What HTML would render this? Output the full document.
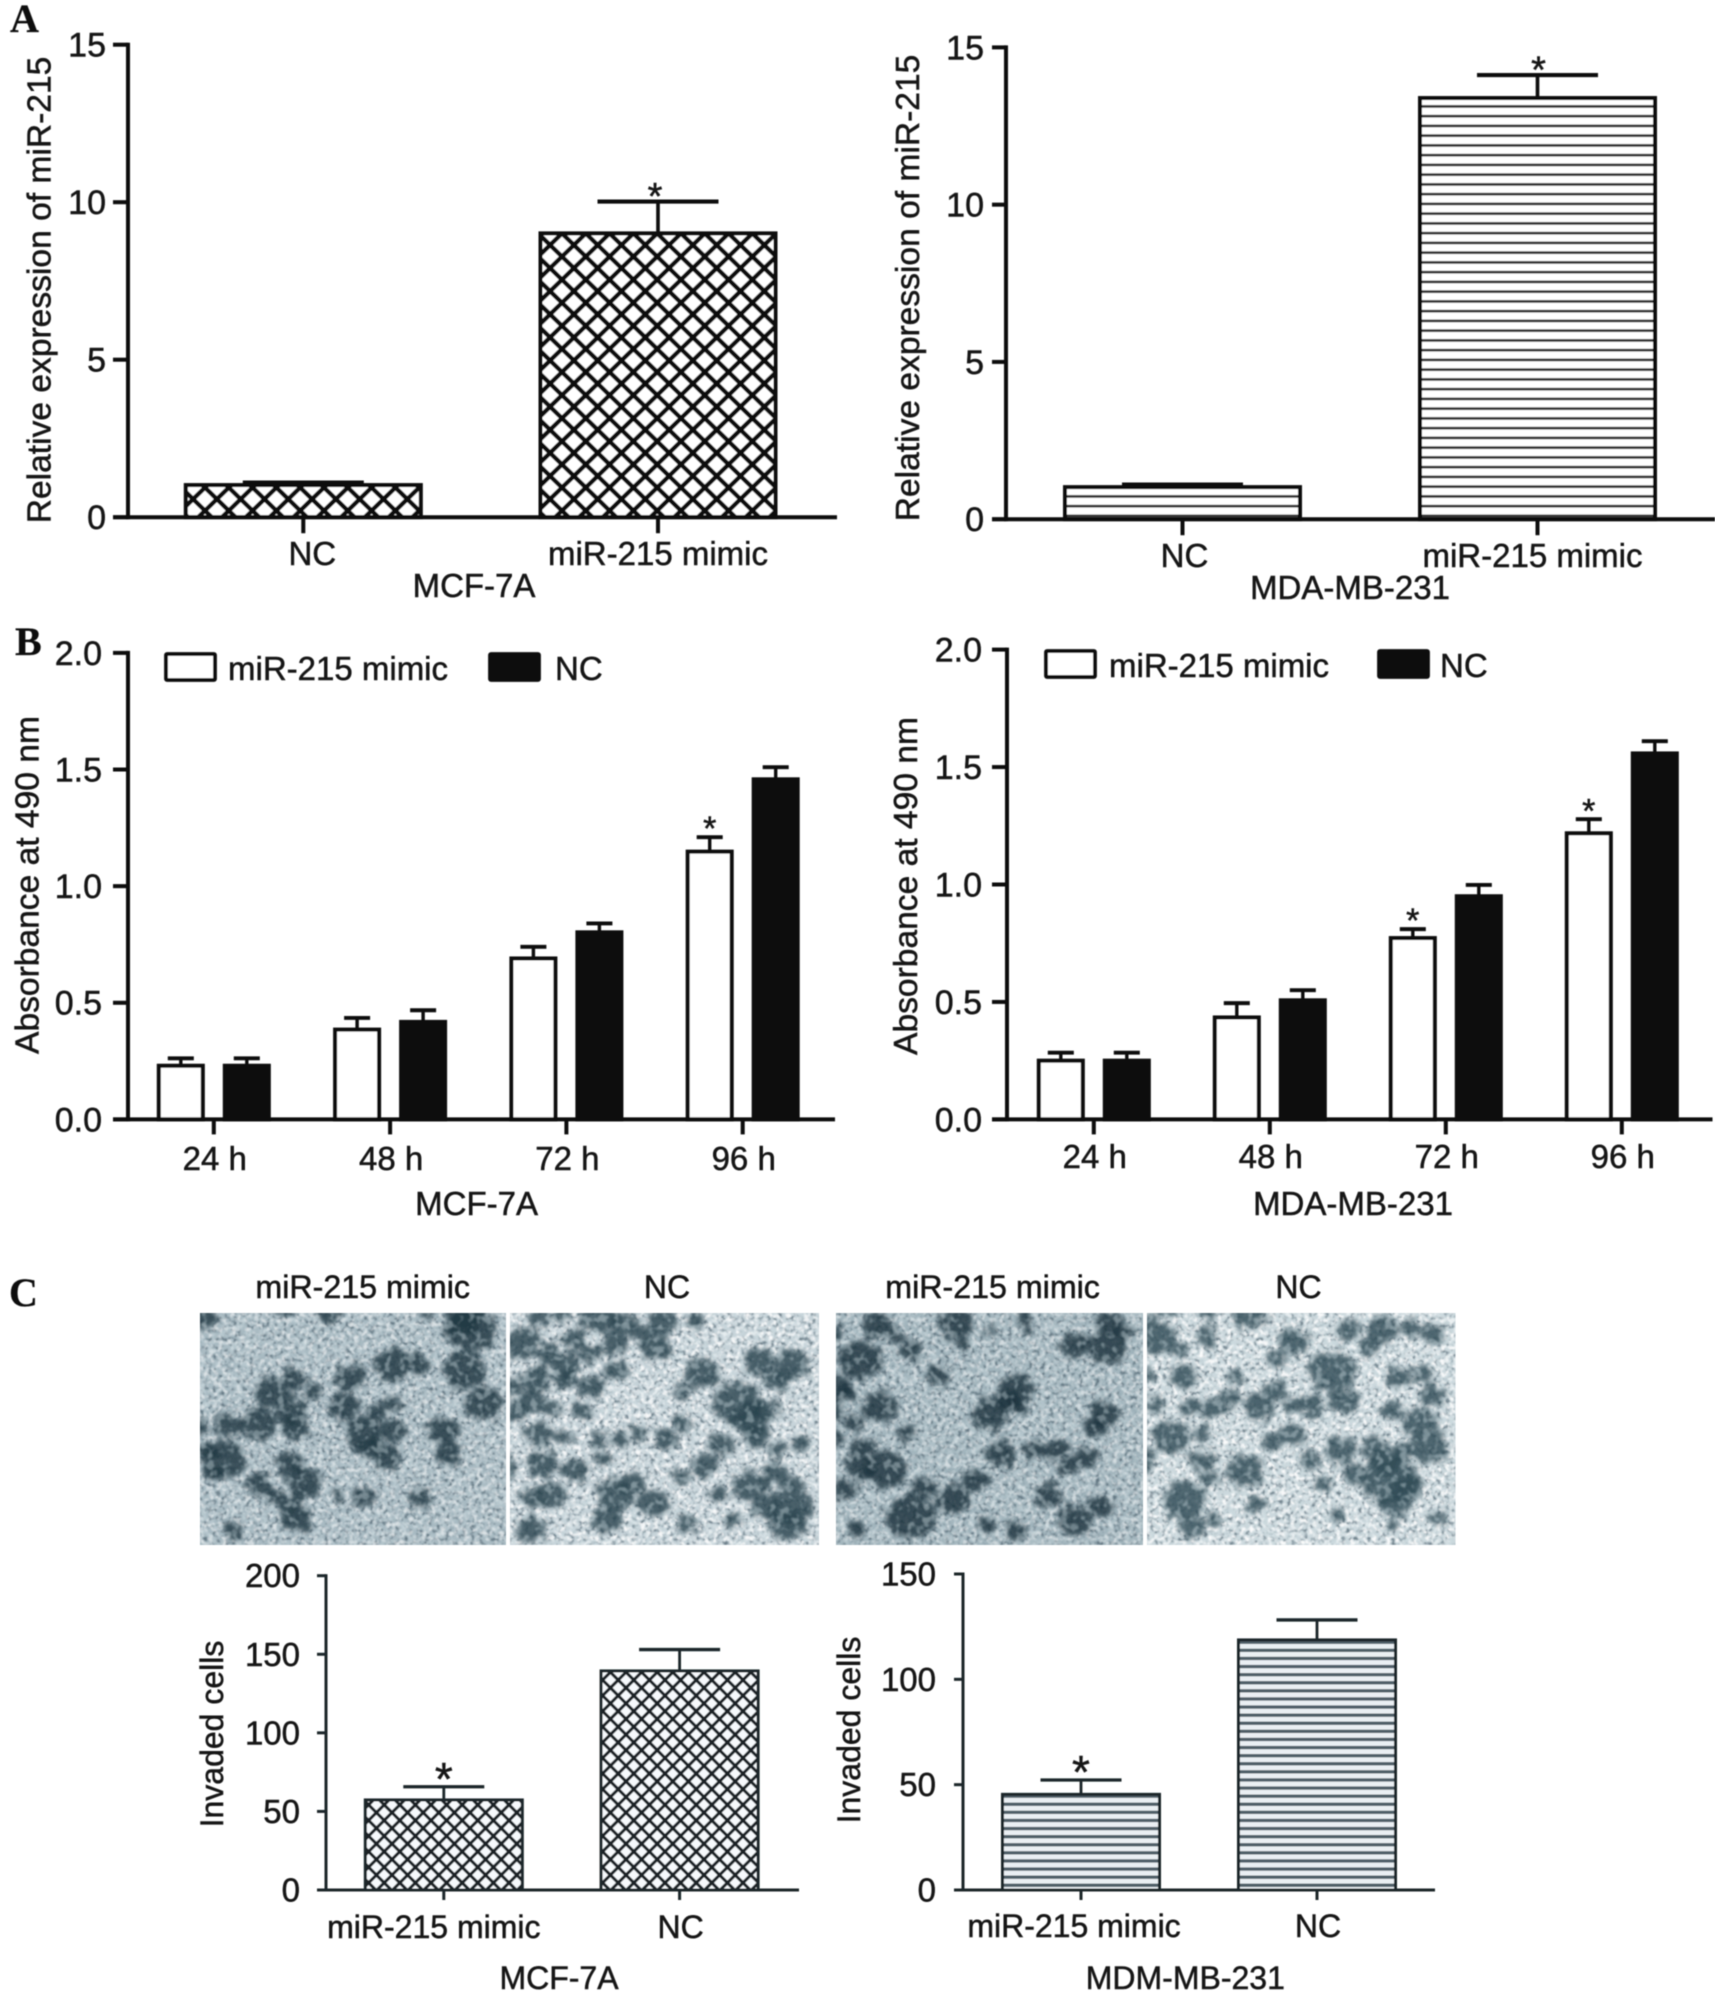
<!DOCTYPE html>
<html lang="en">
<head>
<meta charset="utf-8">
<title>miR-215 figure</title>
<style>
html,body{margin:0;padding:0;background:#fff}
svg{display:block}
text{font-family:"Liberation Sans",sans-serif;fill:#161616;stroke:#161616;stroke-width:.5px}
.letter{font-family:"Liberation Serif",serif;font-weight:bold;fill:#111;stroke-width:.3px}
</style>
</head>
<body>
<svg id="fig" xmlns="http://www.w3.org/2000/svg" width="1728" height="2002" viewBox="0 0 1728 2002">
<defs>
<pattern id="hatchA" width="23.8" height="23.1" patternUnits="userSpaceOnUse" x="26.5" y="14"><rect width="23.8" height="23.1" fill="#fff"/><path d="M0,0L23.8,23.1M23.8,0L0,23.1" stroke="#0a0a0a" stroke-width="4.4" fill="none"/></pattern>
<pattern id="stripeA" width="10" height="9.75" patternUnits="userSpaceOnUse" y="4"><rect width="10" height="9.75" fill="#fff"/><rect y="3.6" width="10" height="2.6" fill="#2e2e2e"/></pattern>
<pattern id="hatchC" width="15.6" height="15.6" patternUnits="userSpaceOnUse" x="2" y="3"><rect width="15.6" height="15.6" fill="#f6f9fc"/><path d="M0,0L15.6,15.6M15.6,0L0,15.6" stroke="#1b2428" stroke-width="3.1" fill="none"/></pattern>
<pattern id="stripeC" width="10" height="8.1" patternUnits="userSpaceOnUse" y="2"><rect width="10" height="8.1" fill="#eaeff3"/><rect y="2.4" width="10" height="3.3" fill="#4f5e68"/></pattern>
<filter id="soften" x="0" y="0" width="100%" height="100%"><feGaussianBlur stdDeviation="0.55"/></filter>
<filter id="blobBlur" x="-5%" y="-5%" width="110%" height="110%" color-interpolation-filters="sRGB"><feTurbulence type="fractalNoise" baseFrequency="0.14" numOctaves="2" seed="4" result="n"/><feDisplacementMap in="SourceGraphic" in2="n" scale="20" xChannelSelector="R" yChannelSelector="G"/><feGaussianBlur stdDeviation="2.4"/></filter>
<filter id="grainW1" x="0" y="0" width="100%" height="100%" color-interpolation-filters="sRGB"><feTurbulence type="fractalNoise" baseFrequency="0.22" numOctaves="2" seed="7"/><feColorMatrix type="matrix" values="0 0 0 0 1  0 0 0 0 1  0 0 0 0 1  3.6 0 0 0 -1.6"/><feGaussianBlur stdDeviation="0.6"/></filter>
<filter id="grainD1" x="0" y="0" width="100%" height="100%" color-interpolation-filters="sRGB"><feTurbulence type="fractalNoise" baseFrequency="0.24" numOctaves="2" seed="21"/><feColorMatrix type="matrix" values="0 0 0 0 0.28  0 0 0 0 0.36  0 0 0 0 0.41  0 4 0 0 -2"/><feGaussianBlur stdDeviation="0.6"/></filter>
<filter id="grainTop" x="0" y="0" width="100%" height="100%" color-interpolation-filters="sRGB"><feTurbulence type="fractalNoise" baseFrequency="0.13" numOctaves="2" seed="33"/><feColorMatrix type="matrix" values="0 0 0 0 0.8  0 0 0 0 0.86  0 0 0 0 0.88  6 0 0 0 -3.1"/><feGaussianBlur stdDeviation="0.8"/></filter>
</defs>
<rect width="1728" height="2002" fill="#fff"/>
<g id="plots" filter="url(#soften)"></g>
</svg>
<script>
// ---- Panel A data ----
const aCategories = ['NC', 'miR-215 mimic'];
const aTicks = [0, 5, 10, 15];
const aMcfValues = [1.02, 9.01];
const aMcfErrors = [1.10, 10.02];
const aMdaValues = [1.02, 13.39];
const aMdaErrors = [1.10, 14.12];
// ---- Panel B data ----
const bCategories = ['24 h', '48 h', '72 h', '96 h'];
const bTicks = ['0.0', '0.5', '1.0', '1.5', '2.0'];
const bMcfMimic = [0.23, 0.385, 0.69, 1.148];
const bMcfMimicErr = [0.262, 0.435, 0.74, 1.21];
const bMcfNc = [0.23, 0.418, 0.802, 1.458];
const bMcfNcErr = [0.262, 0.468, 0.84, 1.51];
const bMdaMimic = [0.25, 0.434, 0.772, 1.218];
const bMdaMimicErr = [0.284, 0.495, 0.81, 1.278];
const bMdaNc = [0.25, 0.507, 0.95, 1.558];
const bMdaNcErr = [0.284, 0.55, 0.998, 1.61];
const bMcfStars = [false, false, false, true];
const bMdaStars = [false, false, true, true];
// ---- Panel C data ----
const cCategories = ['miR-215 mimic', 'NC'];
const cMcfTicks = [0, 50, 100, 150, 200];
const cMdaTicks = [0, 50, 100, 150];
const cMcfValues = [57.3, 139.4];
const cMcfErrors = [65.7, 153];
const cMdaValues = [45.4, 118.7];
const cMdaErrors = [52.2, 128.2];

const root = document.getElementById('plots');
const NS = 'http://www.w3.org/2000/svg';
function mk(tag, attrs, name, parent) {
  const el = document.createElementNS(NS, tag);
  for (const k in attrs) el.setAttribute(k, attrs[k]);
  
  
  (parent || root).appendChild(el);
  return el;
}
function txt(x, y, s, fs, anchor, name, parent) {
  const t = mk('text', {x: x, y: y, 'font-size': fs, 'text-anchor': anchor || 'middle'}, name, parent);
  t.textContent = s;
  return t;
}
function vtxt(cx, cy, s, fs, name, parent) {
  const t = mk('text', {'font-size': fs, 'text-anchor': 'middle', transform: 'translate(' + (cx + fs * 0.36) + ',' + cy + ') rotate(-90)'}, name, parent);
  t.textContent = s;
  return t;
}
function star(cx, cy, fs, name, parent) {
  return txt(cx, cy + fs * 0.59, '*', fs, 'middle', name, parent);
}
function line(x1, y1, x2, y2, sw, color, name, parent) {
  return mk('line', {x1: x1, y1: y1, x2: x2, y2: y2, stroke: color, 'stroke-width': sw}, name, parent);
}
function yScale(L) { return v => L.y0 - v / L.max * (L.y0 - L.yTop); }
function axes(L, ticks, g) {
  const y = yScale(L);
  line(L.ax, L.yTop - L.sw / 2, L.ax, L.y0 + L.sw / 2, L.sw, L.col, 'y-axis', g);
  line(L.tickL, L.y0, L.xEnd, L.y0, L.sw, L.col, 'x-axis', g);
  ticks.forEach(t => {
    const v = parseFloat(t);
    line(L.tickL, y(v), L.ax, y(v), L.sw, L.col, 'y-tick', g);
    txt(L.labR, y(v) + L.fs * 0.36, String(t), L.fs + 1, 'end', 'y-tick-label', g);
  });
}
function errBar(x, top, err, capW, L, y, g) {
  line(x, y(top), x, y(err), L.ew, L.col, 'error-bar-stem', g);
  line(x - capW / 2, y(err), x + capW / 2, y(err), L.ew + 0.5, L.col, 'error-bar-cap', g);
}
function twoBarPanel(L, cats, ticks, vals, errs, stars, name) {
  const g = mk('g', {}, name);
  const y = yScale(L);
  const xc = i => L.x0 + L.step * i;
  vals.forEach((v, i) => {
    mk('rect', {x: xc(i) - L.bw / 2, y: y(v), width: L.bw, height: L.y0 - y(v), fill: L.fill, stroke: L.col, 'stroke-width': L.sw}, 'bar-' + cats[i].toLowerCase().replace(/[^a-z0-9]+/g, '-'), g);
    errBar(xc(i), v, errs[i], L.cap, L, y, g);
    line(xc(i), L.y0, xc(i), L.y0 + L.tl, L.sw, L.col, 'x-tick', g);
    txt(xc(i) + L.lblDx[i], L.lblY, cats[i], L.fs, 'middle', 'x-tick-label', g);
    if (stars[i]) star(xc(i) + L.starDx, y(errs[i]) - L.starGap, L.starFs, 'significance-star', g);
  });
  axes(L, ticks, g);
  txt(L.titleX, L.titleY, L.title, L.fs, 'middle', 'x-axis-title', g);
  vtxt(L.yTitleX, L.yTitleY, L.yTitle, L.yTitleFs, 'y-axis-title', g);
}
function groupedPanel(L, mim, mimE, nc, ncE, stars, name) {
  const g = mk('g', {}, name);
  const y = yScale(L);
  const xc = i => L.x0 + L.step * i;
  bCategories.forEach((c, i) => {
    const xa = xc(i) - L.off, xb = xc(i) + L.off;
    mk('rect', {x: xa - L.bw / 2, y: y(mim[i]), width: L.bw, height: L.y0 - y(mim[i]), fill: '#fff', stroke: L.col, 'stroke-width': L.sw}, 'bar-mimic-' + c.replace(' ', ''), g);
    errBar(xa, mim[i], mimE[i], L.cap, L, y, g);
    mk('rect', {x: xb - L.bw / 2, y: y(nc[i]), width: L.bw, height: L.y0 - y(nc[i]), fill: '#0a0a0a', stroke: L.col, 'stroke-width': L.sw}, 'bar-nc-' + c.replace(' ', ''), g);
    errBar(xb, nc[i], ncE[i], L.cap, L, y, g);
    line(xc(i), L.y0, xc(i), L.y0 + L.tl, L.sw, L.col, 'x-tick', g);
    txt(xc(i) + 1, L.lblY, c, L.fs, 'middle', 'x-tick-label', g);
    if (stars[i]) star(xa, y(mimE[i]) - 17, 34, 'significance-star', g);
  });
  axes(L, bTicks, g);
  txt(L.titleX, L.titleY, L.title, L.fs, 'middle', 'x-axis-title', g);
  vtxt(L.yTitleX, L.yTitleY, 'Absorbance at 490 nm', 33.6, 'y-axis-title', g);
  const lg = mk('g', {}, 'legend', g);
  mk('rect', {x: L.lg[0], y: L.lg[1], width: 49, height: 26, fill: '#fff', stroke: '#111', 'stroke-width': 3.8, rx: 1}, 'legend-swatch-mimic', lg);
  txt(L.lg[2], L.lg[1] + 26, 'miR-215 mimic', 33, 'start', 'legend-label-mimic', lg);
  mk('rect', {x: L.lg[3], y: L.lg[1], width: 49, height: 26, fill: '#0a0a0a', stroke: '#111', 'stroke-width': 3.8, rx: 1}, 'legend-swatch-nc', lg);
  txt(L.lg[4], L.lg[1] + 26, 'NC', 33, 'start', 'legend-label-nc', lg);
}

twoBarPanel({ax:128,yTop:44.7,y0:517.2,max:15,tickL:113,xEnd:837,x0:303.3,step:354.7,bw:235,cap:121,tl:16,sw:4,ew:3.6,col:'#0a0a0a',fill:'url(#hatchA)',fs:33,labR:106,lblDx:[9,0],lblY:565,starDx:-3,starGap:15,starFs:38,titleX:474,titleY:597,title:'MCF-7A',yTitleX:38.5,yTitleY:290,yTitle:'Relative expression of miR-215',yTitleFs:33.6}, aCategories, aTicks, aMcfValues, aMcfErrors, [false,true], 'chart-a-mcf7a');
twoBarPanel({ax:1006,yTop:47.4,y0:519.2,max:15,tickL:992,xEnd:1715,x0:1182.5,step:355,bw:235,cap:121,tl:16,sw:4,ew:3.6,col:'#0a0a0a',fill:'url(#stripeA)',fs:33,labR:984,lblDx:[2,-5],lblY:567,starDx:1,starGap:15,starFs:38,titleX:1350,titleY:599,title:'MDA-MB-231',yTitleX:907,yTitleY:288,yTitle:'Relative expression of miR-215',yTitleFs:33.6}, aCategories, aTicks, aMdaValues, aMdaErrors, [false,true], 'chart-a-mda');
groupedPanel({ax:128,yTop:652.9,y0:1119.4,max:2,tickL:113,xEnd:835,x0:213.8,step:176.3,off:33,bw:44,cap:26,tl:15,sw:4,ew:3.4,col:'#0a0a0a',fs:33,labR:102,lblY:1170,titleX:476.6,titleY:1215,title:'MCF-7A',yTitleX:26.4,yTitleY:885,lg:[166,654,228,490,555]}, bMcfMimic, bMcfMimicErr, bMcfNc, bMcfNcErr, bMcfStars, 'chart-b-mcf7a');
groupedPanel({ax:1007,yTop:649.6,y0:1119.4,max:2,tickL:992,xEnd:1712.5,x0:1093.8,step:176,off:33,bw:44,cap:26,tl:15,sw:4,ew:3.4,col:'#0a0a0a',fs:33,labR:982,lblY:1168,titleX:1353,titleY:1215,title:'MDA-MB-231',yTitleX:905,yTitleY:886,lg:[1046,651,1109,1379,1440]}, bMdaMimic, bMdaMimicErr, bMdaNc, bMdaNcErr, bMdaStars, 'chart-b-mda');
twoBarPanel({ax:326,yTop:1575.7,y0:1890,max:200,tickL:317,xEnd:799,x0:443.8,step:235.8,bw:157,cap:81,tl:10,sw:3,ew:2.8,col:'#1d2529',fill:'url(#hatchC)',fs:32,labR:300,lblDx:[-10,1],lblY:1938,starDx:0,starGap:19,starFs:46,titleX:559,titleY:1989,title:'MCF-7A',yTitleX:211.6,yTitleY:1734,yTitle:'Invaded cells',yTitleFs:32}, cCategories, cMcfTicks, cMcfValues, cMcfErrors, [true,false], 'chart-c-mcf7a');
twoBarPanel({ax:963,yTop:1574,y0:1890,max:150,tickL:954,xEnd:1435,x0:1081,step:236,bw:157,cap:81,tl:10,sw:3,ew:2.8,col:'#1d2529',fill:'url(#stripeC)',fs:32,labR:936,lblDx:[-7,1],lblY:1937,starDx:0,starGap:19,starFs:46,titleX:1185.3,titleY:1989,title:'MDM-MB-231',yTitleX:848.6,yTitleY:1730,yTitle:'Invaded cells',yTitleFs:32}, cCategories, cMdaTicks, cMdaValues, cMdaErrors, [true,false], 'chart-c-mda');

txt(10, 32, 'A', 40, 'start', 'panel-label-a').setAttribute('class', 'letter');
txt(15, 655, 'B', 40, 'start', 'panel-label-b').setAttribute('class', 'letter');
txt(9, 1306, 'C', 40, 'start', 'panel-label-c').setAttribute('class', 'letter');
txt(362.7, 1298, 'miR-215 mimic', 32.2, 'middle', 'micrograph-title-mcf-mimic');
txt(667, 1298, 'NC', 32, 'middle', 'micrograph-title-mcf-nc');
txt(992.6, 1298, 'miR-215 mimic', 32.2, 'middle', 'micrograph-title-mda-mimic');
txt(1298.5, 1298, 'NC', 32, 'middle', 'micrograph-title-mda-nc');

// ---- Micrograph texture blobs (decorative photo stand-ins) ----
const micro1 = [[80,200,22],[275,178,16],[380,185,22],[610,170,18],[715,240,40],[700,200,30],[530,345,30],[590,340,20],[295,385,20],[240,425,28],[340,420,15],[430,380,25],[700,360,35],[745,460,30],[415,470,25],[290,485,25],[210,520,30],[140,525,22],[65,530,18],[300,535,20],[490,490,18],[530,460,15],[460,550,30],[530,540,22],[650,540,25],[480,590,22],[515,620,22],[660,610,22],[130,630,35],[90,600,18],[100,665,15],[285,640,22],[210,700,22],[320,695,28],[250,735,15],[460,740,20],[595,745,18],[290,760,18],[300,810,25],[150,840,15],[400,735,10]];
const micro2 = [[880,200,18],[930,195,15],[1020,200,30],[1075,220,22],[1120,250,18],[1170,215,25],[1250,210,15],[840,280,30],[905,310,18],[960,270,20],[1055,280,20],[1155,295,25],[1000,310,18],[940,345,25],[870,385,25],[1060,360,20],[810,410,18],[940,390,18],[1000,410,22],[860,450,20],[1265,370,28],[1400,335,25],[1480,340,28],[1445,390,22],[1220,425,15],[1350,460,40],[1380,510,30],[1420,480,20],[825,485,18],[980,480,18],[905,475,15],[880,550,22],[1020,570,15],[1070,570,15],[935,560,15],[1115,545,15],[1220,520,15],[1310,580,20],[1395,555,22],[1180,565,20],[1500,580,15],[1440,600,15],[885,640,25],[800,650,20],[965,660,22],[1030,625,15],[1270,645,22],[1380,705,28],[1440,670,22],[1485,700,15],[860,745,18],[905,735,25],[1060,730,30],[1150,760,25],[1215,680,15],[1300,730,15],[1415,770,20],[1475,770,35],[1470,820,30],[1335,810,15],[1040,810,25],[860,835,25],[1230,820,15],[1100,700,20]];
const micro3 = [[160,225,25],[345,220,28],[360,280,12],[510,200,14],[515,232,10],[55,245,14],[205,255,12],[630,285,25],[710,220,22],[710,290,30],[745,240,15],[120,330,35],[240,300,18],[305,375,18],[425,240,8],[60,420,25],[95,430,15],[165,470,28],[490,415,28],[470,450,20],[430,490,30],[495,470,12],[700,490,25],[675,525,20],[55,485,15],[105,520,15],[228,550,16],[55,565,16],[125,590,18],[455,610,25],[530,600,18],[585,600,20],[655,620,20],[610,650,15],[180,660,35],[120,650,25],[80,715,20],[390,690,20],[270,710,20],[340,745,28],[565,735,22],[690,770,20],[630,810,28],[240,800,40],[420,825,14],[110,835,15],[490,840,18]];
const micro4 = [[850,170,20],[945,180,18],[1045,190,28],[790,205,15],[825,260,30],[945,255,18],[1150,275,25],[1365,240,25],[1330,290,18],[1480,250,20],[1280,235,18],[1425,235,15],[880,300,15],[1240,360,38],[795,375,15],[890,380,22],[1110,325,15],[1010,380,12],[1400,380,18],[1455,370,15],[1480,430,20],[1270,450,25],[1110,420,20],[1000,440,18],[1195,465,20],[820,465,15],[905,470,18],[955,470,18],[1070,470,25],[1150,465,15],[1385,480,18],[1450,520,28],[860,560,30],[935,550,15],[1100,575,18],[1150,555,20],[1260,600,25],[1340,590,20],[1410,600,15],[1470,590,30],[795,630,20],[935,630,20],[1035,660,30],[1190,630,18],[1300,670,20],[1380,690,45],[1370,630,25],[1420,710,25],[1220,700,15],[890,750,35],[950,680,15],[1060,760,15],[1390,760,25],[910,830,20],[960,810,15],[1255,795,12],[1490,800,14],[1385,825,10]];

function micrograph(id, x, y, w, h, blobs, ox, oy, sx, sy, base, whiteOp, blobFill, name) {
  const g = mk('g', {}, name);
  const cp = mk('clipPath', {id: id}, 'micrograph-clip', g);
  mk('rect', {x: x, y: y, width: w, height: h}, 'micrograph-clip-rect', cp);
  const inner = mk('g', {'clip-path': 'url(#' + id + ')'}, 'micrograph-image', g);
  mk('rect', {x: x, y: y, width: w, height: h, fill: base}, 'micrograph-base', inner);
  mk('rect', {x: x, y: y, width: w, height: h, filter: 'url(#grainD1)', opacity: 0.7}, 'micrograph-dark-grain', inner);
  mk('rect', {x: x, y: y, width: w, height: h, filter: 'url(#grainW1)', opacity: whiteOp}, 'micrograph-light-grain', inner);
  const bl = mk('g', {filter: 'url(#blobBlur)', fill: blobFill}, 'cell-clusters', inner);
  blobs.forEach(b => {
    const c = mk('ellipse', {cx: x + (b[0] - ox) / sx - 10, cy: y + (b[1] - oy) / sy - 10, rx: b[2] / sx * 1.5, ry: b[2] / sy * 1.6}, 'invaded-cell-cluster', bl);
    c.setAttribute('opacity', 0.82);
  });
  mk('rect', {x: x, y: y, width: w, height: h, filter: 'url(#grainTop)', opacity: 0.42}, 'micrograph-light-grain-top', inner);
}
micrograph('mc1', 200, 1313, 306, 232, micro1, 48, 158, 2.376, 3, '#a8bac2', 0.6, '#1f3641', 'micrograph-mcf-mimic');
micrograph('mc2', 510, 1313, 309, 232, micro2, 785, 158, 2.376, 3, '#c6d3d9', 0.9, '#2a434e', 'micrograph-mcf-nc');
micrograph('mc3', 836, 1313, 307, 232, micro3, 38, 158, 2.376, 3, '#a2b5bd', 0.55, '#1c323d', 'micrograph-mda-mimic');
micrograph('mc4', 1147, 1313, 308.5, 232, micro4, 778, 158, 2.376, 3, '#cbd8dd', 0.95, '#304a55', 'micrograph-mda-nc');
</script>
</body>
</html>
